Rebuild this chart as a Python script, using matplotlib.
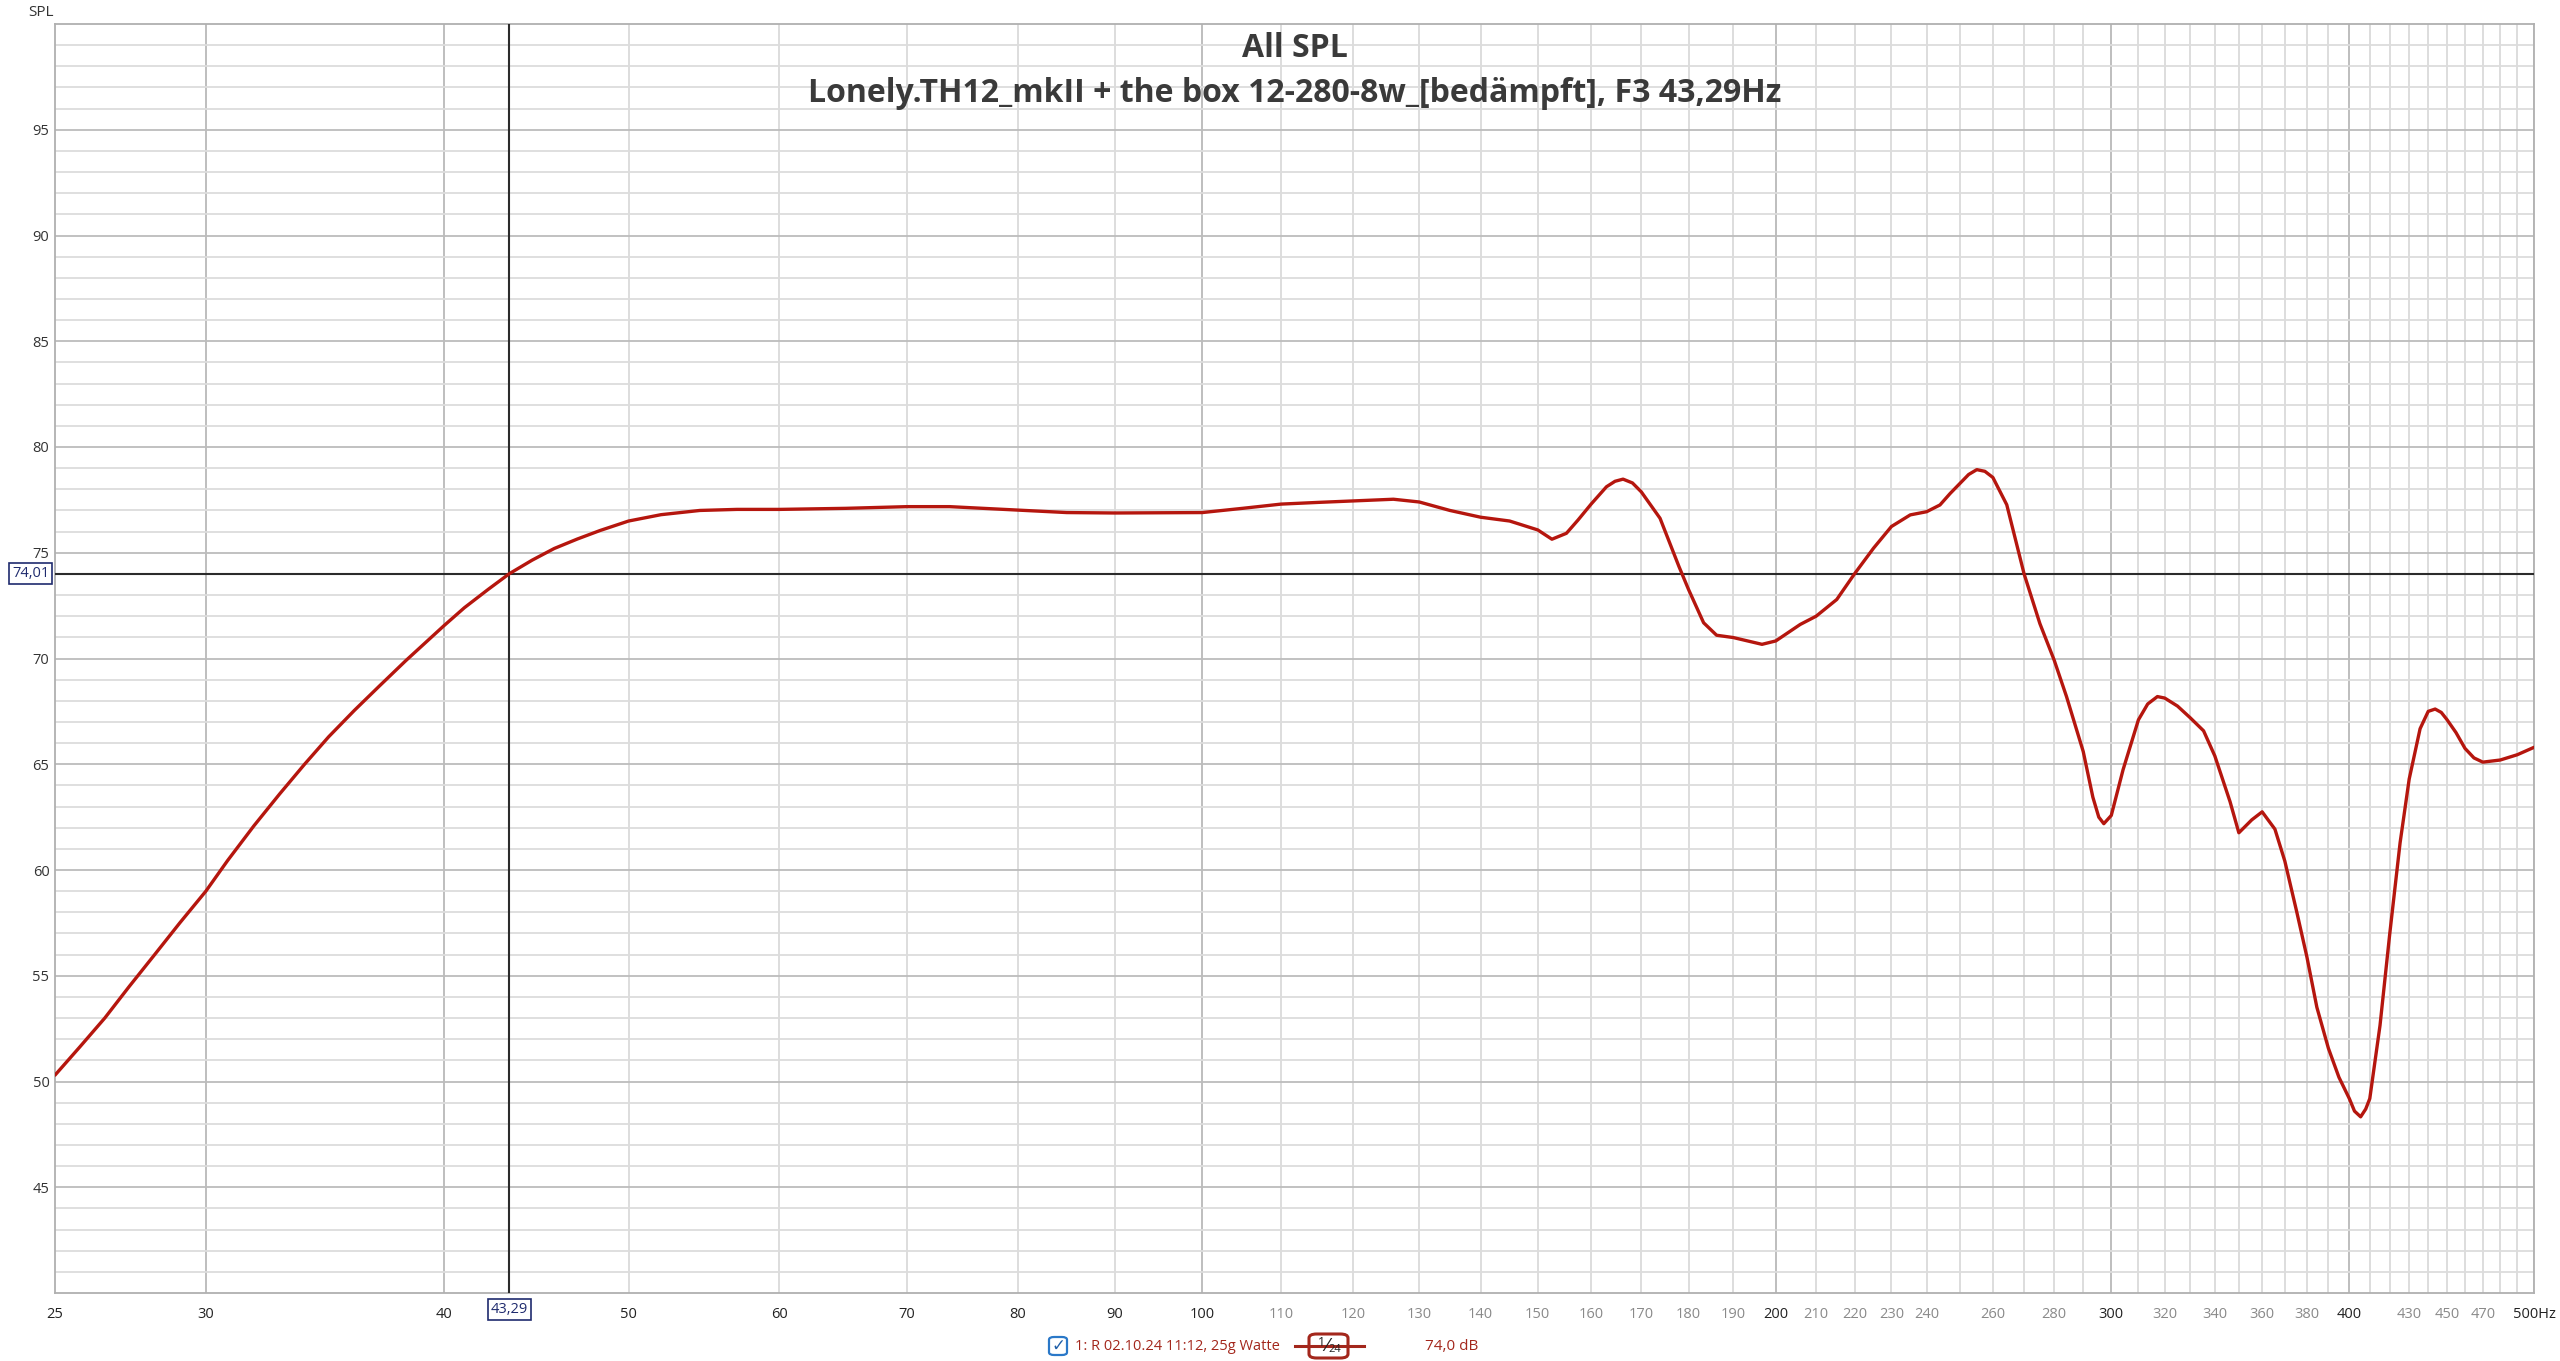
import matplotlib
matplotlib.use("Agg")
import matplotlib.pyplot as plt
from matplotlib.patches import FancyBboxPatch
from matplotlib.lines import Line2D
from matplotlib.ticker import NullLocator

freq_hz = [25.0, 25.77, 26.55, 27.35, 28.2, 29.07, 30.0, 30.8, 31.8, 32.8,
           33.8, 34.8, 35.9, 37.0, 38.2, 38.9, 40.0, 41.0, 42.2, 43.29,
           44.5, 45.7, 47.0, 48.3, 50.0, 52.0, 54.5, 57.0, 60.0, 65.0,
           70.0, 73.7, 80.0, 84.9, 90.0, 100.0, 105.0, 110.0, 115.0, 120.0,
           126.0, 130.0, 134.9, 140.0, 145.0, 150.0, 152.6, 155.3, 157.5, 160.0,
           163.0, 164.7, 166.3, 168.2, 170.0, 173.9, 177.9, 180.0, 183.3, 186.2,
           190.0, 196.7, 200.0, 206.0, 210.0, 215.3, 220.0, 225.1, 230.0, 235.3,
           240.0, 243.9, 246.9, 250.0, 252.5, 255.0, 257.5, 260.0, 264.4, 270.0,
           275.2, 280.0, 284.2, 290.0, 293.4, 295.5, 297.3, 300.0, 304.3, 310.0,
           313.5, 317.2, 320.0, 325.0, 330.0, 335.4, 340.0, 346.3, 350.0, 355.5,
           360.0, 365.6, 370.0, 375.3, 380.0, 384.6, 390.0, 395.0, 400.0, 402.5,
           405.5, 408.0, 410.0, 415.1, 420.0, 425.3, 430.0, 435.7, 440.0, 443.7,
           447.0, 450.0, 455.0, 460.0, 465.0, 470.0, 480.0, 490.0, 500.0]
spl_db = [50.3, 51.65, 53.0, 54.5, 56.0, 57.5, 59.0, 60.45, 62.1, 63.6,
          65.0, 66.3, 67.55, 68.7, 69.9, 70.55, 71.55, 72.4, 73.27, 74.01,
          74.65, 75.2, 75.65, 76.05, 76.5, 76.8, 77.0, 77.05, 77.05, 77.1,
          77.18, 77.18, 77.02, 76.9, 76.88, 76.9, 77.1, 77.3, 77.38, 77.45,
          77.53, 77.4, 77.0, 76.68, 76.5, 76.08, 75.64, 75.92, 76.55, 77.3,
          78.12, 78.38, 78.48, 78.3, 77.88, 76.63, 74.36, 73.26, 71.69, 71.1,
          70.99, 70.67, 70.83, 71.61, 72.0, 72.79, 74.01, 75.22, 76.24, 76.79,
          76.94, 77.26, 77.8, 78.3, 78.7, 78.93, 78.85, 78.56, 77.27, 74.0,
          71.65, 69.92, 68.2, 65.6, 63.44, 62.5, 62.19, 62.58, 64.74, 67.1,
          67.85, 68.2, 68.13, 67.75, 67.2, 66.58, 65.39, 63.23, 61.76, 62.37,
          62.75, 61.93, 60.42, 58.05, 55.89, 53.51, 51.57, 50.2, 49.19, 48.6,
          48.33, 48.7, 49.19, 52.65, 56.97, 61.29, 64.3, 66.68, 67.5, 67.61,
          67.45, 67.12, 66.5, 65.75, 65.3, 65.1, 65.2, 65.45, 65.8]

cursor_freq = 43.29
cursor_spl = 74.01

tick_freqs = [25, 30, 40, 50, 60, 70, 80, 90, 100, 110, 120, 130, 140, 150,
              160, 170, 180, 190, 200, 210, 220, 230, 240, 260, 280, 300, 320,
              340, 360, 380, 400, 430, 450, 470, 500]
tick_labels = [str(f) for f in tick_freqs[:-1]] + ["500Hz"]
dark_ticks = [25, 30, 40, 50, 60, 70, 80, 90, 100, 200, 300, 400, 500]
grid_freqs = list(range(30, 501, 10))
strong_grid = [30, 40, 100, 200, 300, 400]
y_ticks = [45, 50, 55, 60, 65, 70, 75, 80, 85, 90, 95]

curve_col = "#b5160e"
legend_col = "#a3271c"
cursor_col = "#2b2b2b"
box_col = "#1f2b6e"
title_col = "#3a3a3a"

plt.rcParams['font.family'] = ['Open Sans', 'DejaVu Sans']

fig = plt.figure(figsize=(25.6, 13.61), dpi=100)
fig.patch.set_facecolor("white")
ax = fig.add_axes([55 / 2560, 1 - 1293 / 1361, (2534 - 55) / 2560, (1293 - 24) / 1361])
ax.set_xscale("log")
ax.set_xlim(25, 500)
ax.set_ylim(40, 100)

# grid
for f in grid_freqs:
    c = "#b9b9b9" if f in strong_grid else "#dadada"
    ax.axvline(f, color=c, lw=1.3, zorder=1)
for v in range(41, 100):
    c = "#bcbcbc" if v % 5 == 0 else "#dcdcdc"
    ax.axhline(v, color=c, lw=1.3, zorder=1)

for s in ax.spines.values():
    s.set_color("#b0b0b0")
    s.set_linewidth(1.3)

ax.set_xticks(tick_freqs)
ax.set_xticklabels(tick_labels)
ax.xaxis.set_minor_locator(NullLocator())
ax.set_yticks(y_ticks)
ax.set_yticklabels([str(v) for v in y_ticks])
ax.tick_params(axis="both", length=0, labelsize=10.5, colors="#333333")
ax.tick_params(axis="x", pad=10)
ax.tick_params(axis="y", pad=4)
for lab, f in zip(ax.get_xticklabels(), tick_freqs):
    lab.set_color("#222222" if f in dark_ticks else "#8a8a8a")

# cursor
ax.axvline(cursor_freq, color=cursor_col, lw=1.5, zorder=3)
ax.axhline(cursor_spl, color=cursor_col, lw=1.5, zorder=3)

ax.plot(freq_hz, spl_db, color=curve_col, lw=2.4, zorder=4,
        solid_capstyle="round", solid_joinstyle="round")

box = dict(boxstyle="square,pad=0.2", fc="white", ec=box_col, lw=1.2)
ax.annotate("43,29", xy=(cursor_freq, 0), xycoords=("data", "axes fraction"),
            xytext=(0, -12), textcoords="offset points", ha="center", va="center",
            fontsize=10.5, color=box_col, bbox=box, annotation_clip=False)
ax.annotate("74,01", xy=(0, cursor_spl), xycoords=("axes fraction", "data"),
            xytext=(-4, 0), textcoords="offset points", ha="right", va="center",
            fontsize=10.5, color=box_col, bbox=box, annotation_clip=False)

# titles
ax.text(0.5, 0.981, "All SPL", transform=ax.transAxes, ha="center", va="center",
        fontsize=23, fontweight="bold", color=title_col, zorder=5)
ax.text(0.5, 0.9455, "Lonely.TH12_mkII + the box 12-280-8w_[bedämpft], F3 43,29Hz",
        transform=ax.transAxes, ha="center", va="center",
        fontsize=23, fontweight="bold", color=title_col, zorder=5)

fig.text(28 / 2560, 1 - 12 / 1361, "SPL", ha="left", va="center", fontsize=11, color="#333333")

# legend strip at the bottom
ly = 1 - 1346 / 1361
W, H = 2560, 1361
fig.patches.append(FancyBboxPatch((1049 / W, ly - 9 / H), 18 / W, 18 / H,
                                  boxstyle="round,pad=0,rounding_size=0.002",
                                  transform=fig.transFigure, fc="white", ec="#2a78c8", lw=1.6))
fig.text(1058 / W, ly, "\u2713", ha="center", va="center", fontsize=12,
         color="#1f5fa8", family=["DejaVu Sans"])
fig.text(1075 / W, ly, "1: R 02.10.24 11:12, 25g Watte", ha="left", va="center",
         fontsize=10.5, color=legend_col)
fig.lines.append(Line2D([1295 / W, 1364 / W], [ly, ly], transform=fig.transFigure,
                        color=legend_col, lw=2.2))
fig.patches.append(FancyBboxPatch((1309 / W, ly - 12 / H), 39 / W, 24 / H,
                                  boxstyle="round,pad=0,rounding_size=0.003",
                                  transform=fig.transFigure, fc="white", ec=legend_col, lw=2.2))
fig.text(1321 / W, ly + 3 / H, "1", ha="center", va="center", fontsize=9, color="#222222")
fig.text(1327 / W, ly, "\u2044", ha="center", va="center", fontsize=13, color="#222222",
         family=["DejaVu Sans"])
fig.text(1335 / W, ly - 4 / H, "24", ha="center", va="center", fontsize=8, color="#222222")
fig.text(1425 / W, ly, "74,0 dB", ha="left", va="center", fontsize=11, color=legend_col)

fig.savefig("out.png", dpi=100, facecolor="white")
